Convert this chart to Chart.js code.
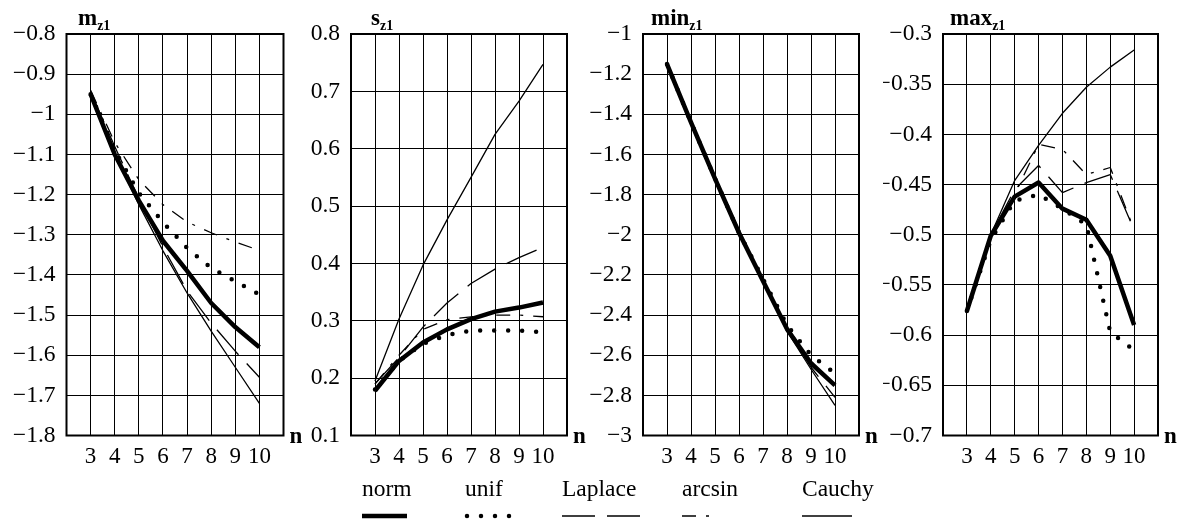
<!DOCTYPE html>
<html>
<head>
<meta charset="utf-8">
<script src="https://cdn.jsdelivr.net/npm/chart.js@4/dist/chart.umd.min.js"></script>
<style>
  body { margin: 0; background: #fff; }
  #wrap { position: relative; width: 1181px; height: 519px; }
  #wrap canvas { position: absolute; left: 0; top: 0; }
</style>
</head>
<body>
<div id="wrap">
  <canvas id="c1" width="1181" height="519"></canvas>
  <canvas id="c2" width="1181" height="519"></canvas>
  <canvas id="c3" width="1181" height="519"></canvas>
  <canvas id="c4" width="1181" height="519"></canvas>
</div>
<script>
const nValues = [3, 4, 5, 6, 7, 8, 9, 10];
const seriesNames = ['norm', 'unif', 'Laplace', 'arcsin', 'Cauchy'];

// m_z1
const mNorm    = [-0.95, -1.10, -1.215, -1.315, -1.39, -1.47, -1.53, -1.58];
const mUnif    = [-0.95, -1.09, -1.196, -1.269, -1.333, -1.383, -1.416, -1.449];
const mLaplace = [-0.945, -1.08, -1.21, -1.33, -1.44, -1.52, -1.59, -1.655];
const mArcsin  = [-0.94, -1.07, -1.163, -1.225, -1.268, -1.295, -1.318, -1.339];
const mCauchy  = [-0.95, -1.10, -1.225, -1.34, -1.445, -1.54, -1.63, -1.72];
const mRange   = [-1.8, -0.8, 0.1];

// s_z1
const sNorm    = [0.178, 0.23, 0.262, 0.285, 0.303, 0.316, 0.323, 0.332];
const sUnif    = [0.18, 0.23, 0.26, 0.275, 0.283, 0.283, 0.283, 0.28];
const sLaplace = [0.19, 0.236, 0.289, 0.331, 0.365, 0.39, 0.41, 0.428];
const sArcsin  = [0.19, 0.24, 0.285, 0.302, 0.307, 0.31, 0.31, 0.307];
const sCauchy  = [0.195, 0.303, 0.397, 0.476, 0.55, 0.625, 0.683, 0.747];
const sRange   = [0.1, 0.8, 0.1];

// min_z1
const minNorm    = [-1.15, -1.44, -1.72, -1.99, -2.23, -2.47, -2.64, -2.75];
const minUnif    = [-1.15, -1.44, -1.72, -1.99, -2.22, -2.45, -2.60, -2.69];
const minLaplace = [-1.15, -1.45, -1.72, -1.99, -2.23, -2.47, -2.66, -2.81];
const minArcsin  = [-1.15, -1.44, -1.71, -1.98, -2.22, -2.46, -2.63, -2.76];
const minCauchy  = [-1.15, -1.45, -1.73, -2.00, -2.24, -2.48, -2.67, -2.85];
const minRange   = [-3, -1, 0.2];

// max_z1
const maxNorm    = [-0.576, -0.501, -0.462, -0.448, -0.474, -0.485, -0.521, -0.59];
const maxUnif    = [-0.576, -0.505, -0.466, -0.46, -0.474, -0.49, -0.597, -0.615];
const maxLaplace = [-0.576, -0.5, -0.455, -0.431, -0.458, -0.448, -0.44, -0.495];
const maxArcsin  = [-0.576, -0.5, -0.46, -0.41, -0.415, -0.44, -0.433, -0.495];
const maxCauchy  = [-0.576, -0.5, -0.446, -0.411, -0.379, -0.353, -0.333, -0.316];
const maxRange   = [-0.7, -0.3, 0.05];

const FONT = '"Liberation Serif", "Times New Roman", serif';

// line looks, same order as seriesNames
const looks = [
  { width: 4.5, dash: [], cap: 'butt' },
  { width: 4.5, dash: [0, 14], cap: 'round' },
  { width: 1.3, dash: [33, 12], cap: 'butt' },
  { width: 1.3, dash: [14, 10, 3, 10], cap: 'butt' },
  { width: 1.3, dash: [], cap: 'butt' }
];

function fmt(v) {
  const s = String(Number(v.toFixed(2)));
  return s.replace('-', '\u2212');
}

const frameAndLabels = {
  id: 'frameAndLabels',
  beforeDatasetsDraw(chart) {
    const { ctx, chartArea: a } = chart;
    ctx.save();
    ctx.strokeStyle = '#000';
    ctx.lineWidth = 2;
    ctx.strokeRect(a.left, a.top, a.right - a.left, a.bottom - a.top);
    ctx.restore();
  },
  afterDraw(chart, args, opts) {
    const { ctx, chartArea: a } = chart;
    ctx.save();
    ctx.fillStyle = '#000';
    ctx.textBaseline = 'alphabetic';
    ctx.textAlign = 'left';
    // title with subscript
    ctx.font = 'bold 23px ' + FONT;
    ctx.fillText(opts.title, opts.titleX, 25);
    const w = ctx.measureText(opts.title).width;
    ctx.font = 'bold 14px ' + FONT;
    ctx.fillText('z1', opts.titleX + w, 30);
    // axis name
    ctx.font = 'bold 23px ' + FONT;
    ctx.fillText('n', a.right + 6, a.bottom + 7);
    ctx.restore();
  }
};

const legendRow = {
  id: 'legendRow',
  afterDraw(chart) {
    const ctx = chart.ctx;
    const textX = [362, 465, 562, 682, 802];
    const lineLen = [45, 46, 83, 35, 50];
    ctx.save();
    ctx.fillStyle = '#000';
    ctx.font = '23.5px ' + FONT;
    ctx.textBaseline = 'alphabetic';
    seriesNames.forEach((name, i) => {
      ctx.fillText(name, textX[i], 496);
      ctx.beginPath();
      ctx.lineWidth = looks[i].width;
      ctx.lineCap = looks[i].cap;
      ctx.setLineDash(looks[i].dash);
      const x0 = i === 1 ? textX[i] + 2 : textX[i];
      ctx.moveTo(x0, 516);
      ctx.lineTo(textX[i] + lineLen[i], 516);
      ctx.stroke();
    });
    ctx.restore();
  }
};

function makePanel(id, title, titleX, left, right, range, series, withLegend) {
  const datasets = series.map((vals, i) => ({
    label: seriesNames[i],
    data: nValues.map((n, k) => ({ x: n, y: vals[k] })),
    borderColor: '#000',
    borderWidth: looks[i].width,
    borderDash: looks[i].dash,
    borderCapStyle: looks[i].cap,
    borderJoinStyle: 'round',
    pointRadius: 0,
    fill: false,
    tension: 0
  }));

  new Chart(document.getElementById(id), {
    type: 'line',
    data: { datasets },
    plugins: withLegend ? [frameAndLabels, legendRow] : [frameAndLabels],
    options: {
      responsive: false,
      animation: false,
      layout: { padding: { left: left - 60, right: 1181 - right, top: 34, bottom: 23.5 } },
      plugins: {
        legend: { display: false },
        tooltip: { enabled: false },
        frameAndLabels: { title, titleX }
      },
      scales: {
        x: {
          type: 'linear',
          min: 2,
          max: 11,
          afterFit: s => { s.height = 60; },
          border: { display: false },
          grid: { color: '#000', lineWidth: 1, drawTicks: false },
          ticks: {
            stepSize: 1,
            padding: 8,
            autoSkip: false,
            maxRotation: 0,
            minRotation: 0,
            color: '#000',
            font: { family: FONT, size: 23 },
            callback: v => (v >= 3 && v <= 10 ? String(v) : '')
          }
        },
        y: {
          min: range[0],
          max: range[1],
          afterFit: s => { s.width = 60; },
          border: { display: false },
          grid: { color: '#000', lineWidth: 1, drawTicks: false },
          ticks: {
            stepSize: range[2],
            padding: 11,
            autoSkip: false,
            color: '#000',
            font: { family: FONT, size: 23.5 },
            callback: v => fmt(v)
          }
        }
      }
    }
  });
}

makePanel('c1', 'm', 78, 66.5, 283.5, mRange, [mNorm, mUnif, mLaplace, mArcsin, mCauchy], false);
makePanel('c2', 's', 371, 351, 567, sRange, [sNorm, sUnif, sLaplace, sArcsin, sCauchy], false);
makePanel('c3', 'min', 651, 643, 859, minRange, [minNorm, minUnif, minLaplace, minArcsin, minCauchy], false);
makePanel('c4', 'max', 950, 943, 1158, maxRange, [maxNorm, maxUnif, maxLaplace, maxArcsin, maxCauchy], true);
</script>
</body>
</html>
